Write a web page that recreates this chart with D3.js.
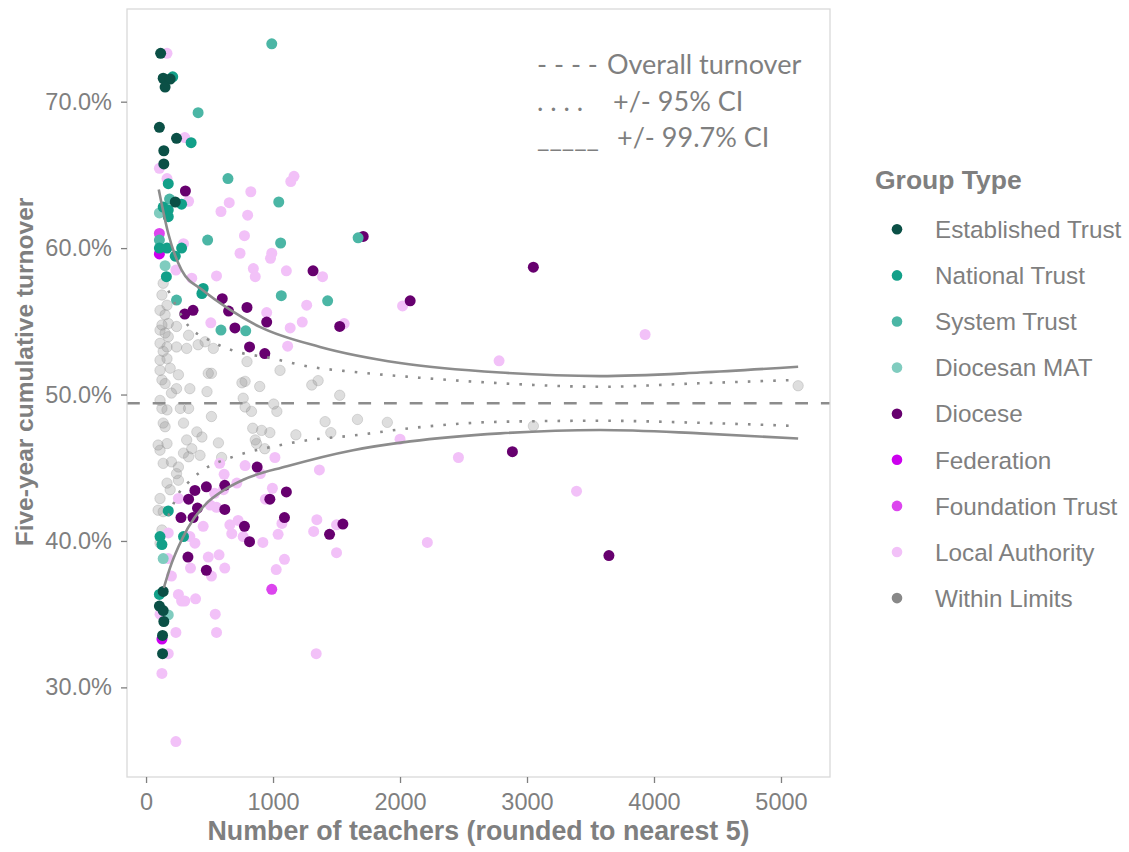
<!DOCTYPE html>
<html>
<head>
<meta charset="utf-8">
<script src="https://cdn.jsdelivr.net/npm/d3@7"></script>
<style>
  body { margin: 0; background: #fff; }
  svg { display: block; font-family: "Liberation Sans", Arial, sans-serif; }
</style>
</head>
<body>
<div id="chart"></div>
<script>
// ---- data: [number of teachers, five-year turnover %] ----
const establishedTrust = [[115,73.3],[135,71.6],[190,71.55],[150,71.0],[105,68.25],[240,67.5],[140,66.65],[140,65.75],[230,63.15],
  [135,36.55],[105,35.55],[135,35.25],[140,34.5],[130,33.55],[130,32.3]];
const nationalTrust = [[210,71.7],[355,67.2],[175,64.4],[280,63.0],[135,62.8],[175,62.6],[175,62.15],[105,60.0],[165,60.0],[280,60.0],
  [230,59.45],[160,58.05],[450,57.25],[440,56.9],[175,42.05],[110,40.3],[295,40.3],[125,39.75],[105,36.35]];
const systemTrust = [[990,73.95],[410,69.25],[185,63.35],[645,64.75],[1045,63.15],[105,60.55],[485,60.55],[1060,60.35],[1670,60.7],
  [240,56.45],[1065,56.75],[1430,56.4],[590,54.4],[785,54.35]];
const diocesanMAT = [[105,62.4],[150,58.8],[135,38.8],[175,34.95]];
const diocese = [[310,63.9],[1315,58.45],[1710,60.8],[2080,56.4],[3050,58.7],[600,56.55],[795,55.95],[650,55.7],[305,55.5],[370,55.75],
  [950,54.95],[1525,54.65],[700,54.55],[815,53.25],[935,52.8],[875,45.05],[620,43.8],[475,43.7],[385,43.45],[335,42.85],[405,42.25],
  [620,42.15],[1105,43.35],[975,42.85],[275,41.6],[370,41.6],[1090,41.6],[775,41.0],[1550,41.15],[1445,40.45],[815,39.95],[330,38.9],
  [475,38.0],[2885,46.1],[3645,39.0]];
const federation = [[105,59.6],[125,33.3]];
const foundationTrust = [[105,61.0],[990,36.7]];
const localAuthority = [[165,73.3],[305,67.55],[105,65.45],[165,64.75],[335,63.2],[1140,64.55],[1165,64.9],[825,63.85],[655,63.1],
  [590,62.5],[800,62.25],[295,60.3],[775,60.85],[740,59.65],[990,59.65],[980,59.3],[845,58.6],[1105,58.45],[1390,58.05],[235,58.5],
  [360,57.95],[555,58.1],[860,58.05],[2020,56.05],[1265,56.1],[950,55.6],[1230,54.95],[1560,54.85],[510,54.9],[1135,54.55],[1115,53.3],
  [3930,54.1],[2780,52.3],[2000,46.95],[2460,45.7],[3390,43.4],[2215,39.9],[1365,44.85],[1015,45.7],[780,45.15],[900,44.6],[580,45.3],
  [615,44.55],[715,43.95],[610,43.5],[255,42.9],[540,43.25],[505,42.45],[555,42.3],[995,43.6],[940,42.85],[450,41.0],[1070,41.2],
  [1345,41.45],[660,41.1],[725,41.4],[1500,41.1],[1320,40.65],[1040,40.45],[675,40.5],[765,40.3],[920,39.9],[345,40.3],[385,39.85],
  [175,40.55],[175,38.8],[490,38.9],[575,39.05],[350,38.15],[620,38.15],[515,37.6],[200,37.6],[1090,38.75],[1025,38.05],[1500,39.2],
  [255,36.35],[280,35.9],[305,35.9],[390,36.05],[110,35.0],[545,35.0],[235,33.75],[555,33.75],[175,32.3],[1340,32.3],[125,30.95],[235,26.3]];
const withinLimits = [[135,57.6],[125,56.8],[165,56.1],[110,55.75],[150,55.45],[125,54.75],[175,54.85],[110,54.4],[150,54.2],[240,54.65],
  [335,54.05],[175,53.95],[110,53.5],[165,53.25],[135,52.95],[240,53.25],[320,53.15],[410,53.4],[530,53.15],[465,53.6],[110,52.35],
  [165,52.45],[190,51.8],[110,51.65],[255,51.35],[125,51.0],[150,50.75],[240,50.4],[200,50.1],[345,50.4],[490,51.45],[480,50.2],
  [110,49.6],[125,49.05],[165,48.95],[270,49.05],[335,49.05],[515,48.5],[295,48.05],[135,48.05],[150,47.8],[400,47.45],[440,47.1],
  [95,46.55],[165,46.65],[320,46.9],[110,46.2],[295,46.0],[360,46.3],[425,45.85],[335,45.75],[570,46.7],[135,45.3],[200,45.4],
  [255,45.05],[240,44.6],[165,43.95],[190,43.5],[255,44.15],[110,42.9],[95,42.1],[135,42.0],[125,40.75],[110,39.85],
  [515,51.45],[795,52.25],[1055,51.65],[755,50.8],[780,50.9],[895,50.55],[1305,50.65],[1355,50.95],[1525,49.95],[765,49.75],
  [780,49.15],[830,48.85],[1005,49.35],[1030,48.85],[840,47.7],[910,47.55],[975,47.4],[860,46.9],[870,46.65],[935,46.3],[1180,47.25],
  [1410,48.15],[1455,47.4],[1665,48.3],[1900,48.1],[595,45.7],[3050,47.85],[5135,50.6]];

// funnel limits
const overallTurnover = 49.4;
const upper997 = [[100,64.0],[175,61.0],[280,58.5],[450,57.1],[660,55.8],[900,54.6],[1370,53.25],[2000,52.15],[2790,51.5],
  [3575,51.26],[4360,51.5],[5135,51.9]];
const lower997 = [[140,36.8],[190,38.2],[255,39.6],[330,40.9],[480,42.6],[600,43.4],[770,44.2],[1110,45.1],[1630,46.2],[2080,46.8],
  [2790,47.35],[3575,47.58],[4360,47.35],[5135,47.0]];
const upper95 = [[175,57.1],[333,54.7],[500,53.7],[685,53.0],[976,52.5],[1290,51.9],[1630,51.55],[2080,51.2],[2790,50.77],[3575,50.53],
  [4360,50.77],[5130,51.0]];
const lower95 = [[175,41.7],[268,43.4],[333,44.0],[425,44.7],[685,45.75],[976,46.4],[1290,46.9],[1630,47.2],[2080,47.7],[2790,48.14],
  [3575,48.21],[4360,48.07],[5130,47.85]];

const xTicks = [0, 1000, 2000, 3000, 4000, 5000];
const yTicks = [30, 40, 50, 60, 70];

const groupNames = ["Established Trust", "National Trust", "System Trust", "Diocesan MAT", "Diocese",
  "Federation", "Foundation Trust", "Local Authority", "Within Limits"];
const groupData = [establishedTrust, nationalTrust, systemTrust, diocesanMAT, diocese,
  federation, foundationTrust, localAuthority, withinLimits];
const groupColors = ["#0b5046", "#12a089", "#4bb6a5", "#80ccbf", "#67006f", "#cc00ee", "#dc45ee", "#f2c1f8", "#888888"];

const annotationLines = [["- - - -", "Overall turnover"], [". . . .", "+/- 95% CI"], ["_____", "+/- 99.7% CI"]];

// ---- drawing ----
const width = 1129, height = 852;
const panel = { left: 127, right: 830, top: 9, bottom: 777 };
const textGrey = "#7f7f7f";
const lineGrey = "#8c8c8c";

const svg = d3.select("#chart").append("svg")
  .attr("width", width).attr("height", height);
svg.append("rect").attr("width", width).attr("height", height).attr("fill", "#fff");

const x = d3.scaleLinear().domain([-150, 5386]).range([panel.left, panel.right]);
const y = d3.scaleLinear().domain([23.88, 76.33]).range([panel.bottom, panel.top]);

// points, gray first, dark groups on top
const drawOrder = [8, 7, 6, 5, 4, 3, 2, 1, 0];
drawOrder.forEach((gi) => {
  const g = svg.append("g");
  const sel = g.selectAll("circle").data(groupData[gi]).enter().append("circle")
    .attr("cx", (d) => x(d[0]))
    .attr("cy", (d) => y(d[1]))
    .attr("r", gi === 8 ? 5.2 : 5.5)
    .attr("fill", groupColors[gi]);
  if (gi === 8) {
    sel.attr("fill-opacity", 0.28).attr("stroke", groupColors[gi])
      .attr("stroke-opacity", 0.28).attr("stroke-width", 1);
  }
});

// funnel lines
const line = d3.line().x((d) => x(d[0])).y((d) => y(d[1])).curve(d3.curveMonotoneX);
[upper997, lower997].forEach((arr) => {
  svg.append("path").attr("d", line(arr)).attr("fill", "none")
    .attr("stroke", lineGrey).attr("stroke-width", 2.6);
});
[upper95, lower95].forEach((arr) => {
  svg.append("path").attr("d", line(arr)).attr("fill", "none")
    .attr("stroke", lineGrey).attr("stroke-width", 2.6).attr("stroke-dasharray", "2.6,10.1");
});
svg.append("line")
  .attr("x1", panel.left).attr("x2", panel.right)
  .attr("y1", y(overallTurnover)).attr("y2", y(overallTurnover))
  .attr("stroke", lineGrey).attr("stroke-width", 2.6).attr("stroke-dasharray", "12.8,12.9");

// panel border
svg.append("rect")
  .attr("x", panel.left).attr("y", panel.top)
  .attr("width", panel.right - panel.left).attr("height", panel.bottom - panel.top)
  .attr("fill", "none").attr("stroke", "#d9d9d9").attr("stroke-width", 1.3);

// axes
const xAxis = svg.append("g").attr("transform", `translate(0,${panel.bottom})`)
  .call(d3.axisBottom(x).tickValues(xTicks).tickSize(6).tickPadding(10).tickFormat(d3.format("d")));
const yAxis = svg.append("g").attr("transform", `translate(${panel.left},0)`)
  .call(d3.axisLeft(y).tickValues(yTicks).tickSize(6).tickPadding(9).tickFormat((d) => d.toFixed(1) + "%"));
[xAxis, yAxis].forEach((a) => {
  a.select(".domain").remove();
  a.selectAll(".tick line").attr("stroke", textGrey).attr("stroke-width", 1.3);
  a.selectAll(".tick text").attr("fill", textGrey).style("font-size", "23.5px")
    .style("font-family", "'Liberation Sans', Arial, sans-serif");
});

// axis titles
svg.append("text")
  .attr("x", (panel.left + panel.right) / 2).attr("y", 840)
  .attr("text-anchor", "middle").attr("fill", textGrey)
  .style("font-size", "26.8px").style("font-weight", "bold")
  .text("Number of teachers (rounded to nearest 5)");
svg.append("text")
  .attr("transform", "translate(33,372) rotate(-90)")
  .attr("text-anchor", "middle").attr("fill", textGrey)
  .style("font-size", "24.5px").style("font-weight", "bold")
  .text("Five-year cumulative turnover");

// in-panel annotation
const ann = svg.append("g").style("font-family", "Lato, 'Open Sans', sans-serif").attr("fill", textGrey);
const annY = [74, 111, 146.5];
const annX = [607, 613, 617];
annotationLines.forEach((row, i) => {
  ann.append("text").attr("x", 537).attr("y", annY[i]).style("font-size", "27px").text(row[0]);
  ann.append("text").attr("x", annX[i]).attr("y", annY[i]).style("font-size", "27px").text(row[1]);
});

// legend
const legend = svg.append("g");
legend.append("text").attr("x", 875).attr("y", 189)
  .attr("fill", textGrey).style("font-size", "26.5px").style("font-weight", "bold")
  .text("Group Type");
const items = legend.selectAll(".legend").data(groupNames).enter().append("g")
  .attr("class", "legend")
  .attr("transform", (d, i) => `translate(0,${229.3 + i * 46.1})`);
items.append("circle").attr("cx", 897).attr("cy", 0).attr("r", 5.3)
  .attr("fill", (d, i) => groupColors[i]);
items.append("text").attr("x", 935).attr("y", 0).attr("dy", "0.36em")
  .attr("fill", textGrey).style("font-size", "24.3px")
  .text((d) => d);
</script>
</body>
</html>
